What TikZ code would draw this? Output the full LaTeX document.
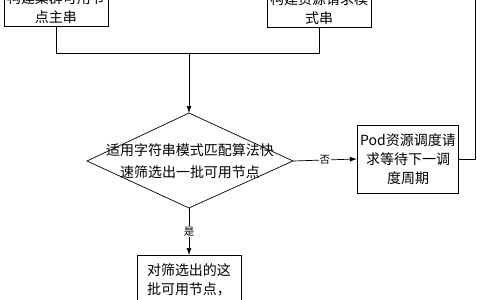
\documentclass[tikz,border=0pt]{standalone}
\usepackage{fontspec}
\setmainfont{Noto Sans CJK SC}
\usetikzlibrary{arrows.meta,positioning}

\begin{document}
\begin{tikzpicture}[x=1pt,y=-1pt,
    proc/.style={draw,line width=0.7pt,align=center,inner sep=3pt,font=\fontsize{14}{19}\selectfont},
    decide/.style={align=center,inner sep=0pt,font=\fontsize{14}{22}\selectfont},
    flow/.style={line width=0.7pt,-{Latex[length=7pt,width=5pt]}},
    tag/.style={fill=white,inner sep=1pt,font=\fontsize{10.5}{12}\selectfont}]
    \useasboundingbox (0,0) rectangle (480,300);
    \clip (0,0) rectangle (480,300);
    % input strings
    \node[proc,minimum width=102pt,anchor=south] (nodestr) at (56,27) {构建集群可用节\\点主串};
    \node[proc,minimum width=101pt,anchor=south] (podstr) at (319,28) {构建资源请求模\\式串};
    % matching diamond
    \node[decide] (match) at (190,161) {适用字符串模式匹配算法快\\速筛选出一批可用节点};
    \coordinate (mtop) at (189,113);
    \coordinate (mright) at (293,161);
    \coordinate (mbot) at (189,208);
    \coordinate (mleft) at (87,161);
    \draw[line width=0.7pt] (mtop) -- (mright) -- (mbot) -- (mleft) -- cycle;
    % outcomes
    \node[proc,minimum width=100pt,minimum height=68pt] (wait) at (408,159) {Pod资源调度请\\求等待下一调\\度周期};
    \node[proc,minimum width=104pt,inner ysep=8pt,anchor=north] (score) at (189,255) {对筛选出的这\\批可用节点，\\调用score算法};
    \coordinate (merge) at (189,53);
    \coordinate (backtop) at (475,-40);
    % connectors
    \draw[line width=0.7pt] (nodestr.south) |- (merge);
    \draw[line width=0.7pt] (podstr.south) |- (merge);
    \draw[flow] (merge) -- (mtop);
    \draw[flow] (mright) -- node[tag] {否} (wait.west);
    \draw[flow] (mbot) -- node[tag] {是} (score.north);
    \draw[line width=0.7pt] (wait.east) -| (backtop);
\end{tikzpicture}
\end{document}
